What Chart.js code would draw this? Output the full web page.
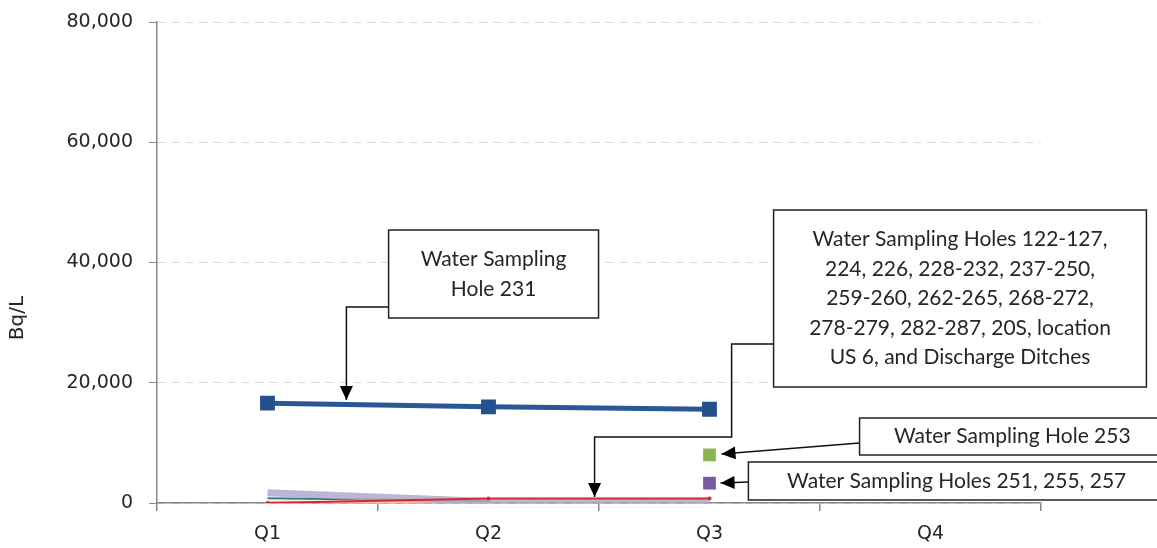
<!DOCTYPE html>
<html>
<head>
<meta charset="utf-8">
<script src="https://cdn.jsdelivr.net/npm/chart.js@4"></script>
<style>
  html, body { margin: 0; padding: 0; background: #fff; }
  #wrap { width: 1157px; height: 548px; }
</style>
</head>
<body>
<div id="wrap"><canvas id="chart" width="1157" height="548"></canvas></div>
<script>
// quarters on the x axis
const quarters = ['Q1', 'Q2', 'Q3', 'Q4'];

// Bq/L values
const hole231 = [16600, 16000, 15600, null];
const hole253 = [null, null, 8000, null];
const holes251 = [null, null, 3300, null];
const redSeries = [0, 750, 750, null];
const lavenderSeries = [1700, 250, 250, null];
const tealSeries = [800, 350, null, null];
const peachSeries = [60, 60, null, null];

const yTicks = [0, 20000, 40000, 60000, 80000];
const yTitle = 'Bq/L';

// callout boxes: x as category index, y as value
const callouts = [
    { lines: ['Water Sampling', 'Hole 231'], box: [0.548, 45400, 1.498, 30770],
      path: [[0.548, 32600], [0.357, 32600], [0.357, 17130]] },
    { lines: ['Water Sampling Holes 122-127,', '224, 226, 228-232, 237-250,', '259-260, 262-265, 268-272,',
              '278-279, 282-287, 20S, location', 'US 6, and Discharge Ditches'],
      box: [2.29, 48730, 3.977, 19290],
      path: [[2.29, 26445], [2.1, 26445], [2.1, 10977], [1.48, 10977], [1.48, 1000]] },
    { lines: ['Water Sampling Hole 253'], box: [2.679, 14137, 4.06, 7983],
      path: [[2.679, 9980], [2.054, 8150]] },
    { lines: ['Water Sampling Holes 251, 255, 257'], box: [2.176, 6820, 4.03, 500],
      path: [[2.176, 3493], [2.05, 3326]] }
];

const calloutPlugin = {
    id: 'callouts',
    afterDatasetsDraw(chart) {
        const ctx = chart.ctx;
        const xs = chart.scales.x, ys = chart.scales.y;
        const px = v => xs.getPixelForValue(0) + v * (xs.getPixelForValue(1) - xs.getPixelForValue(0));
        const py = v => ys.getPixelForValue(v);
        ctx.save();
        callouts.forEach(c => {
            // connector line
            ctx.strokeStyle = '#111';
            ctx.lineWidth = 1.5;
            ctx.beginPath();
            c.path.forEach((p, i) => {
                if (i === 0) ctx.moveTo(px(p[0]), py(p[1]));
                else ctx.lineTo(px(p[0]), py(p[1]));
            });
            ctx.stroke();
            // arrow head at the last point
            const a = c.path[c.path.length - 2], b = c.path[c.path.length - 1];
            const ax = px(a[0]), ay = py(a[1]), bx = px(b[0]), by = py(b[1]);
            const ang = Math.atan2(by - ay, bx - ax);
            const len = 14, half = 6.5;
            ctx.fillStyle = '#000';
            ctx.beginPath();
            ctx.moveTo(bx, by);
            ctx.lineTo(bx - len * Math.cos(ang) + half * Math.sin(ang), by - len * Math.sin(ang) - half * Math.cos(ang));
            ctx.lineTo(bx - len * Math.cos(ang) - half * Math.sin(ang), by - len * Math.sin(ang) + half * Math.cos(ang));
            ctx.closePath();
            ctx.fill();
            // box
            const x0 = px(c.box[0]), y0 = py(c.box[1]), x1 = px(c.box[2]), y1 = py(c.box[3]);
            ctx.fillStyle = '#fff';
            ctx.fillRect(x0, y0, x1 - x0, y1 - y0);
            ctx.strokeStyle = '#222';
            ctx.lineWidth = 1.5;
            ctx.strokeRect(x0, y0, x1 - x0, y1 - y0);
            // text
            ctx.fillStyle = '#262626';
            ctx.font = '21px Lato, "Open Sans", sans-serif';
            ctx.textAlign = 'center';
            ctx.textBaseline = 'middle';
            const lh = 29.5;
            const cx = x1 > chart.width ? (x0 + chart.width) / 2 + 4 : (x0 + x1) / 2;
            const cy = (y0 + y1) / 2 - (c.lines.length - 1) * lh / 2;
            c.lines.forEach((t, i) => ctx.fillText(t, cx, cy + i * lh));
        });
        ctx.restore();
    }
};

// y axis title sits below the middle of the axis in the original
const yTitlePlugin = {
    id: 'yTitle',
    afterDraw(chart) {
        const ctx = chart.ctx;
        ctx.save();
        ctx.translate(18, 318);
        ctx.rotate(-Math.PI / 2);
        ctx.fillStyle = '#262626';
        ctx.font = '20px "DejaVu Sans"';
        ctx.textAlign = 'center';
        ctx.textBaseline = 'middle';
        ctx.fillText(yTitle, 0, 0);
        ctx.restore();
    }
};

new Chart(document.getElementById('chart').getContext('2d'), {
    type: 'line',
    data: {
        labels: quarters,
        datasets: [
            { label: 'Water Sampling Hole 231', data: hole231, borderColor: '#2B5797', backgroundColor: '#24518C',
              borderWidth: 5, pointStyle: 'rect', pointRadius: 10.5, pointBorderWidth: 0 },
            { label: 'Water Sampling Hole 253', data: hole253, borderColor: '#8DB451', backgroundColor: '#8DB451',
              borderWidth: 3, pointStyle: 'rect', pointRadius: 9, pointBorderWidth: 0 },
            { label: 'Water Sampling Holes 251, 255, 257', data: holes251, borderColor: '#7A58A4', backgroundColor: '#7A58A4',
              borderWidth: 3, pointStyle: 'rect', pointRadius: 9, pointBorderWidth: 0 },
            { label: 'red', data: redSeries, borderColor: '#D42A2A', backgroundColor: '#D42A2A',
              borderWidth: 2, pointRadius: 2, pointBorderWidth: 0 },
            { label: 'lavender', data: lavenderSeries, borderColor: 'rgba(178,168,204,0.85)', backgroundColor: 'rgba(178,168,204,0.85)',
              borderWidth: 7, pointRadius: 0 },
            { label: 'teal', data: tealSeries, borderColor: '#2E7B86', borderWidth: 2, pointRadius: 0 },
            { label: 'peach', data: peachSeries, borderColor: '#F7C2A6', borderWidth: 4, pointRadius: 0 }
        ]
    },
    options: {
        responsive: false,
        animation: false,
        spanGaps: false,
        layout: { padding: { top: 22, right: 116, left: 0, bottom: 0 } },
        plugins: {
            legend: { display: false },
            tooltip: { enabled: false }
        },
        scales: {
            x: {
                offset: true,
                afterFit: scale => { scale.height = 45; scale.paddingLeft = 0; scale.paddingRight = 0; },
                grid: { offset: true, drawOnChartArea: false, tickLength: 8, tickColor: '#888', lineWidth: 1.5 },
                border: { color: '#888', width: 1.5 },
                ticks: { color: '#262626', font: { family: 'DejaVu Sans', size: 19 }, padding: 12 }
            },
            y: {
                min: 0,
                max: 80000,
                afterBuildTicks: scale => { scale.ticks = yTicks.map(v => ({ value: v })); },
                afterFit: scale => { scale.width = 157; scale.paddingTop = 0; scale.paddingBottom = 0; },
                grid: { color: '#d9d9d9', lineWidth: 1, tickLength: 8, tickColor: '#888', tickBorderDash: [] },
                border: { color: '#888', width: 1.5, dash: [8, 6] },
                ticks: {
                    color: '#262626', padding: 16,
                    font: { family: 'DejaVu Sans', size: 19 },
                    callback: v => v.toLocaleString('en-US')
                }
            }
        }
    },
    plugins: [calloutPlugin, yTitlePlugin]
});
</script>
</body>
</html>
